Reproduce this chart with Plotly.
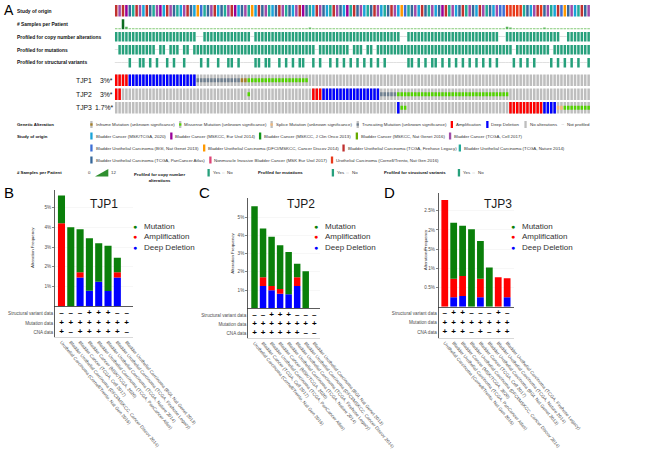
import plotly.graph_objects as go

W, H = 668, 462
FONT = "Liberation Sans, Arial, Helvetica, sans-serif"

# ============================ DATA ============================
# ---- Panel A: oncoprint (one character per sample column) ----
STUDY_NAMES = [
    "Bladder Cancer (MSK/TCGA, 2020)",
    "Bladder Cancer (MSKCC, Eur Urol 2014)",
    "Bladder Cancer (MSKCC, J Clin Onco 2013)",
    "Bladder Cancer (MSKCC, Nat Genet 2016)",
    "Bladder Cancer (TCGA, Cell 2017)",
    "Bladder Urothelial Carcinoma (BGI, Nat Genet 2013)",
    "Bladder Urothelial Carcinoma (DFCI/MSKCC, Cancer Discov 2014)",
    "Bladder Urothelial Carcinoma (TCGA, Firehose Legacy)",
    "Bladder Urothelial Carcinoma (TCGA, Nature 2014)",
    "Bladder Urothelial Carcinoma (TCGA, PanCancer Atlas)",
    "Nonmuscle Invasive Bladder Cancer (MSK Eur Urol 2017)",
    "Urothelial Carcinoma (Cornell/Trento, Nat Gen 2016)",
]
STUDY_KEYS = "MEJGCBDFNPUR"
STUDY_COLORS = ["#1aa3d9", "#990099", "#109618", "#66aa00", "#a04aa8", "#3d6fd6",
                "#ff9900", "#c0312f", "#22aa99", "#37689b", "#dd4477", "#e8391a"]

SAMPLE_STUDY = ("FCFEPNFCMF" "PNCEMFCPNM" "CFPMDBNPCF" "MPNCFEMPCN" "DMFPCNMPFC"
                "NPMCFEPNMF" "CPMNFCPMEN" "FPCMNPFCMN" "PFCMDBNPCM" "FPNCMPEFNC"
                "MPFNCPMFCN" "PMCBBRRRRR" "NPMCFRPCNM" "FBDPCMNFPC")
# samples per patient (hex digit, C = 12)
SAMPLES_PER_PATIENT = ("11C3111111" "1111111111" "1111111111" "1111111111" "1111111111"
                       "1111111211" "1111111111" "1111111111" "1111111111" "1111111111"
                       "1111111111" "1111132111" "1111112111" "1111111111")
PROFILED_CNA = ("1111111111" "1111111111" "1111001111" "1111111111" "0111111111"
                "1111111111" "1111111111" "1111111111" "1111001111" "1111111111"
                "1111111111" "1110011111" "1111111111" "1001111111")
PROFILED_MUT = ("0111111111" "1101101110" "1101111111" "1111111111" "1111111111"
                "1111111110" "1111111110" "1110110111" "1111111111" "1111111111"
                "1111111111" "1111111011" "1111111101" "1111111111")
PROFILED_SV = ("0000100110" "1010010100" "1000010100" "1001101000" "0110110010"
               "1010110010" "1001010101" "0101010101" "0000001101" "0101101010"
               "1010101010" "1010000101" "0101000010" "1010101001")
# A amp, D deep del, T truncating, I inframe, M missense, S splice, . none
GENES = ["TJP1", "TJP2", "TJP3"]
GENE_PCT = ["3%*", "3%*", "1.7%*"]
ALT_TJP1 = ("AAAADDDDDD" "DDDDDDDDDD" "DDDDTTTTTT" "TTTTTTTIIM" "MMMMMMMMMM"
            "MMMMMMM..." ".........." ".........." ".........." ".........."
            ".........." ".........." ".........." "..........")
ALT_TJP2 = ("AA........" ".........." ".........." ".........M" ".........."
            "........AA" "ADDDDDDDDD" "DDDDDDDDTT" "TTTMMMMMMM" "MMMMMMMMMM"
            "MMMMMMMMMM" "MMMMMM...." ".........." "..........")
ALT_TJP3 = (".........." ".........." ".........." ".........." ".........."
            ".........." ".........." ".........." "...DMM...." ".........."
            ".........." "......AAAA" "AAAAAADDDD" "SSMMMMMMMM")

ALT_LEGEND = ["Inframe Mutation (unknown significance)", "Missense Mutation (unknown significance)",
              "Splice Mutation (unknown significance)", "Truncating Mutation (unknown significance)",
              "Amplification", "Deep Deletion", "No alterations", "Not profiled"]
ALT_KEYS = "IMST" + "AD" + "." + "_"
ALT_COLORS = {"I": "#a68028", "M": "#53d400", "S": "#f0b87b", "T": "#708090",
              "A": "#ff0000", "D": "#0000ff", ".": "#bebebe", "_": "#d9d9d9"}

# ---- Panels B-D: alteration frequency (%) per study ----
CAT_B = ["Urothelial Carcinoma (Cornell/Trento, Nat Gen 2016)",
         "Bladder Urothelial Carcinoma (DFCI/MSKCC, Cancer Discov 2014)",
         "Bladder Cancer (TCGA, Cell 2017)",
         "Bladder Cancer (MSK/TCGA, 2020)",
         "Bladder Urothelial Carcinoma (TCGA, PanCancer Atlas)",
         "Bladder Urothelial Carcinoma (TCGA, Nature 2014)",
         "Bladder Urothelial Carcinoma (TCGA, Firehose Legacy)",
         "Bladder Urothelial Carcinoma (BGI, Nat Genet 2013)"]
MUT_B = [1.40, 4.00, 2.17, 2.64, 1.94, 2.29, 0.73, 0.0]
AMP_B = [4.20, 0.00, 0.26, 0.00, 0.00, 0.00, 0.26, 0.0]
DEL_B = [0.00, 0.00, 1.47, 0.80, 1.25, 0.78, 1.47, 0.0]
SV_B, MD_B, CNA_B = "---+++--", "++++++++", "+-+++++-"

CAT_C = ["Urothelial Carcinoma (Cornell/Trento, Nat Gen 2016)",
         "Bladder Cancer (TCGA, Cell 2017)",
         "Bladder Urothelial Carcinoma (TCGA, PanCancer Atlas)",
         "Bladder Cancer (MSK/TCGA, 2020)",
         "Bladder Urothelial Carcinoma (TCGA, Nature 2014)",
         "Bladder Urothelial Carcinoma (TCGA, Firehose Legacy)",
         "Bladder Urothelial Carcinoma (DFCI/MSKCC, Cancer Discov 2014)",
         "Bladder Urothelial Carcinoma (BGI, Nat Genet 2013)"]
MUT_C = [5.60, 2.68, 2.70, 2.39, 2.31, 0.74, 2.03, 0.0]
AMP_C = [0.00, 0.48, 0.23, 0.26, 0.00, 0.48, 0.00, 0.0]
DEL_C = [0.00, 1.22, 0.99, 0.80, 0.77, 1.22, 0.00, 0.0]
SV_C, MD_C, CNA_C = "--+++---", "++++++++", "++++++--"

CAT_D = ["Urothelial Carcinoma (Cornell/Trento, Nat Gen 2016)",
         "Bladder Urothelial Carcinoma (TCGA, PanCancer Atlas)",
         "Bladder Cancer (MSK/TCGA, 2020)",
         "Bladder Urothelial Carcinoma (DFCI/MSKCC, Cancer Discov 2014)",
         "Bladder Cancer (TCGA, Cell 2017)",
         "Bladder Urothelial Carcinoma (BGI, Nat Genet 2013)",
         "Bladder Urothelial Carcinoma (TCGA, Nature 2014)",
         "Bladder Urothelial Carcinoma (TCGA, Firehose Legacy)"]
MUT_D = [0.00, 1.46, 1.31, 2.02, 0.98, 1.02, 0.00, 0.00]
AMP_D = [2.78, 0.48, 0.52, 0.00, 0.48, 0.00, 0.77, 0.49]
DEL_D = [0.00, 0.25, 0.28, 0.00, 0.25, 0.00, 0.00, 0.25]
SV_D, MD_D, CNA_D = "-++---+-", "++++++++", "+++-+-++"

TABLE_ROWS = ["Structural variant data", "Mutation data", "CNA data"]
SERIES = ["Mutation", "Amplification", "Deep Deletion"]
SERIES_COLORS = ["#0a7f0a", "#ff0000", "#0000ff"]

# ============================ FIGURE ============================
fig = go.Figure()
layout = {}
annotations = []
shapes = []


def xd(a, b):
    return [a / W, b / W]


def yd(top, bot):
    return [1 - bot / H, 1 - top / H]


def note(x, y, text, size, bold=False, anchor="left", color="#222222", angle=0, yanchor="middle"):
    annotations.append(dict(x=x / W, y=1 - y / H, xref="paper", yref="paper", showarrow=False,
                            text=f"<b>{text}</b>" if bold else text, xanchor=anchor, yanchor=yanchor,
                            textangle=angle, borderpad=0,
                            font=dict(family=FONT, size=size, color=color)))


def rect(x0, x1, y0, y1, color):
    shapes.append(dict(type="rect", xref="paper", yref="paper", x0=x0 / W, x1=x1 / W,
                       y0=1 - y1 / H, y1=1 - y0 / H, fillcolor=color, line=dict(width=0)))


# ---------------- Panel A oncoprint ----------------
N = len(SAMPLE_STUDY)
cols = list(range(N))
layout["xaxis"] = dict(domain=xd(129, 665), range=[-0.5, N - 0.5], visible=False)
layout["yaxis"] = dict(domain=yd(2, 115), range=[115, 2], visible=False)
CW = 0.74


def obar(xs, base, height, color, width=CW, extra=None):
    if not xs:
        return
    m = dict(color=color, line=dict(width=0))
    if extra:
        m.update(extra)
    fig.add_trace(go.Bar(x=xs, y=height if isinstance(height, list) else [height] * len(xs),
                         base=base, width=width, marker=m, xaxis="x", yaxis="y",
                         hoverinfo="skip", showlegend=False))


# study of origin
study_color = {k: c for k, c in zip(STUDY_KEYS, STUDY_COLORS)}
obar(cols, 5, 11.5, [study_color[s] for s in SAMPLE_STUDY])
# samples per patient
spp = [int(c, 16) for c in SAMPLES_PER_PATIENT]
obar(cols, 29.2, [-v * 10 / 12 for v in spp], spp,
     extra=dict(colorscale=[[0, "#9fd68a"], [0.2, "#5cb85c"], [1, "#0b6b1f"]], cmin=0, cmax=12))
# profiled tracks
for prof, top in [(PROFILED_CNA, 32), (PROFILED_MUT, 45), (PROFILED_SV, 58)]:
    yes = [i for i in cols if prof[i] == "1"]
    no = [i for i in cols if prof[i] == "0"]
    obar(no, top + 4.2, 0.7, "#d6d6d6", width=1.0)
    obar(yes, top, 9.5, "#27a07c")
# genes
GENE_TOP = [74.5, 88.5, 102.0]
GH = 11.5
for alt, top in zip([ALT_TJP1, ALT_TJP2, ALT_TJP3], GENE_TOP):
    obar(cols, top, GH, ALT_COLORS["."])
    for k in "AD":
        obar([i for i in cols if alt[i] == k], top, GH, ALT_COLORS[k])
    for k in "ITMS":
        obar([i for i in cols if alt[i] == k], top + GH / 3, GH / 3, ALT_COLORS[k])

note(3, 10, "A", 14, color="#000000")
for lbl, yy in [("Study of origin", 11), ("# Samples per Patient", 24),
                ("Profiled for copy number alterations", 37), ("Profiled for mutations", 50.5),
                ("Profiled for structural variants", 63)]:
    note(18, yy, lbl, 4.9, bold=True, color="#111111")
for g, pct, top in zip(GENES, GENE_PCT, GENE_TOP):
    note(84, top + GH / 2, g, 6.8, color="#111111")
    note(128, top + GH / 2, pct, 6.8, anchor="right", color="#111111")

# legend of panel A
note(18, 124.5, "Genetic Alteration", 4.3, bold=True, color="#111111")
ALT_X = [103, 203, 306, 403, 509, 549, 592, 634]
for lbl, k, x in zip(ALT_LEGEND, ALT_KEYS, ALT_X):
    yy = 124.5
    if k in "ITMS":
        rect(x - 1.3, x + 1.3, yy - 3.5, yy + 3.5, ALT_COLORS["."])
        rect(x - 1.3, x + 1.3, yy - 1.2, yy + 1.2, ALT_COLORS[k])
    elif k == "_":
        rect(x - 1.5, x + 1.5, yy - 0.3, yy + 0.3, ALT_COLORS[k])
    else:
        rect(x - 1.3, x + 1.3, yy - 3.5, yy + 3.5, ALT_COLORS[k])
    note(x + 3.5, yy, lbl, 4.4, color="#333333")

note(18, 136, "Study of origin", 4.3, bold=True, color="#111111")
STUDY_POS = [(103, 136), (193, 136), (293, 136), (402, 136), (507, 136),
             (103, 148), (230, 148), (387, 148), (518, 148),
             (103, 160), (237, 160), (374, 160)]
for name, col, (x, yy) in zip(STUDY_NAMES, STUDY_COLORS, STUDY_POS):
    rect(x - 1.3, x + 1.3, yy - 3.5, yy + 3.5, col)
    note(x + 3.5, yy, name, 4.4, color="#333333")

note(18, 173, "# Samples per Patient", 4.3, bold=True, color="#111111")
note(104, 173, "0", 4.4, anchor="right", color="#333333")
shapes.append(dict(type="path", xref="paper", yref="paper",
                   path=f"M {107/W} {1-176.5/H} L {122/W} {1-176.5/H} L {122/W} {1-169/H} Z",
                   fillcolor="#2f8f2f", line=dict(width=0)))
note(124, 173, "12", 4.4, color="#333333")
for title, tx, sx in [("Profiled for copy number<br>alterations", 150, 235),
                      ("Profiled for mutations", 290, 375),
                      ("Profiled for structural variants", 432, 517)]:
    note(tx, 170.5 if "<br>" in title else 172.5, title, 4.3, bold=True, color="#111111",
         yanchor="top" if "<br>" in title else "middle")
    rect(sx - 1.3, sx + 1.3, 169, 176.5, "#27a07c")
    note(sx + 3.5, 173, "Yes", 4.4, color="#333333")
    rect(sx + 15, sx + 18, 172.7, 173.3, "#d0d0d0")
    note(sx + 20, 173, "No", 4.4, color="#333333")

# ---------------- Panels B, C, D ----------------
PANELS = [
    dict(letter="B", lx=3, gene="TJP1", cats=CAT_B, mut=MUT_B, amp=AMP_B, dl=DEL_B,
         tab=[SV_B, MD_B, CNA_B], x0=61.7, x1=150, xr=[-0.72, 7.7], top=190, bot=306.5,
         ymax=5.88, tbot=337, rows=[313, 323, 332], ticks=[1, 2, 3, 4, 5],
         tlab=["1%", "2%", "3%", "4%", "5%"], title_x=117, ytitle_x=36, ytitle_y=247,
         leg_x=151.7),
    dict(letter="C", lx=223, gene="TJP2", cats=CAT_C, mut=MUT_C, amp=AMP_C, dl=DEL_C,
         tab=[SV_C, MD_C, CNA_C], x0=279.3, x1=361, xr=[-0.77, 7.73], top=198.3, bot=308.3,
         ymax=6.03, tbot=338, rows=[315, 324, 333], ticks=[1, 2, 3, 4, 5],
         tlab=["1%", "2%", "3%", "4%", "5%"], title_x=339, ytitle_x=261, ytitle_y=253,
         leg_x=356),
    dict(letter="D", lx=432, gene="TJP3", cats=CAT_D, mut=MUT_D, amp=AMP_D, dl=DEL_D,
         tab=[SV_D, MD_D, CNA_D], x0=494, x1=579, xr=[-0.7, 7.77], top=192.7, bot=306.8,
         ymax=2.97, tbot=337.7, rows=[313, 322.7, 332], ticks=[0.5, 1, 1.5, 2, 2.5],
         tlab=["0.5%", "1%", "1.5%", "2%", "2.5%"], title_x=561.5, ytitle_x=479, ytitle_y=250,
         leg_x=578.3),
]

TICKF = dict(family=FONT, size=4.6, color="#4d4d4d")
for k, p in enumerate(PANELS):
    xt, xb, yb, yt = 2 + 2 * k, 3 + 2 * k, 2 + 2 * k, 3 + 2 * k
    n = len(p["cats"])
    idx = list(range(n))
    layout[f"xaxis{xt}"] = dict(domain=xd(p["x0"], p["x1"]), range=p["xr"], anchor=f"y{yt}",
                                tickmode="array", tickvals=idx, ticktext=p["cats"], tickangle=50,
                                tickfont=TICKF, showline=True, linecolor="#d0d0d0", linewidth=0.8,
                                ticks="", showgrid=False, zeroline=False)
    layout[f"xaxis{xb}"] = dict(domain=xd(p["x0"], p["x1"]), range=p["xr"], anchor=f"y{yb}",
                                showticklabels=False, showline=True, linecolor="#333333",
                                linewidth=0.8, ticks="", showgrid=False, zeroline=False)
    layout[f"yaxis{yb}"] = dict(domain=yd(p["top"], p["bot"]), range=[0, p["ymax"]],
                                anchor=f"x{xb}", tickmode="array", tickvals=p["ticks"],
                                ticktext=p["tlab"], showline=True, linecolor="#333333",
                                linewidth=0.8, ticks="outside", ticklen=2, tickwidth=0.6,
                                tickcolor="#333333", tickfont=TICKF, showgrid=True,
                                gridcolor="#efefef", gridwidth=0.5, zeroline=False)
    layout[f"yaxis{yt}"] = dict(domain=yd(p["bot"], p["tbot"]), range=[p["tbot"], p["bot"]],
                                anchor=f"x{xt}", tickmode="array", tickvals=p["rows"],
                                ticktext=TABLE_ROWS, showline=True, linecolor="#333333",
                                linewidth=0.8, ticks="", tickfont=TICKF, showgrid=False,
                                zeroline=False)
    base_amp = [d for d in p["dl"]]
    base_mut = [d + a for d, a in zip(p["dl"], p["amp"])]
    for vals, base, col in [(p["dl"], [0] * n, SERIES_COLORS[2]),
                            (p["amp"], base_amp, SERIES_COLORS[1]),
                            (p["mut"], base_mut, SERIES_COLORS[0])]:
        fig.add_trace(go.Bar(x=idx, y=vals, base=base, width=0.76,
                             marker=dict(color=col, line=dict(width=0)),
                             xaxis=f"x{xb}", yaxis=f"y{yb}", hoverinfo="skip", showlegend=False))
    tx, ty, tt = [], [], []
    for row_str, ry in zip(p["tab"], p["rows"]):
        for i, ch in enumerate(row_str):
            tx.append(i)
            ty.append(ry)
            tt.append("+" if ch == "+" else "\u2013")
    fig.add_trace(go.Scatter(x=tx, y=ty, text=tt, mode="text",
                             textfont=dict(family=FONT, size=8, color="#000000", weight="bold"),
                             xaxis=f"x{xt}", yaxis=f"y{yt}", hoverinfo="skip", showlegend=False))
    note(p["lx"], 192, p["letter"], 15, color="#000000")
    note(p["title_x"], 204, p["gene"], 12, anchor="center", color="#1a1a1a")
    note(p["ytitle_x"], p["ytitle_y"], "Alteration Frequency", 4.4, anchor="center",
         color="#333333", angle=-90)
    for j, (sname, scol) in enumerate(zip(SERIES, SERIES_COLORS)):
        yy = 226 + j * 10.8
        note(p["leg_x"], yy, "\u25cf", 7, anchor="center", color=scol)
        note(p["leg_x"] + 9, yy, sname, 8, color="#333333")

fig.update_layout(width=W, height=H, margin=dict(l=0, r=0, t=0, b=0), autosize=False,
                  paper_bgcolor="white", plot_bgcolor="rgba(0,0,0,0)", barmode="overlay",
                  font=dict(family=FONT), annotations=annotations, shapes=shapes, **layout)
fig.write_html("out.html", config={"displayModeBar": False, "staticPlot": True},
               post_script="document.body.style.margin='0';document.body.style.padding='0';"
                           "document.body.style.overflow='hidden';")
